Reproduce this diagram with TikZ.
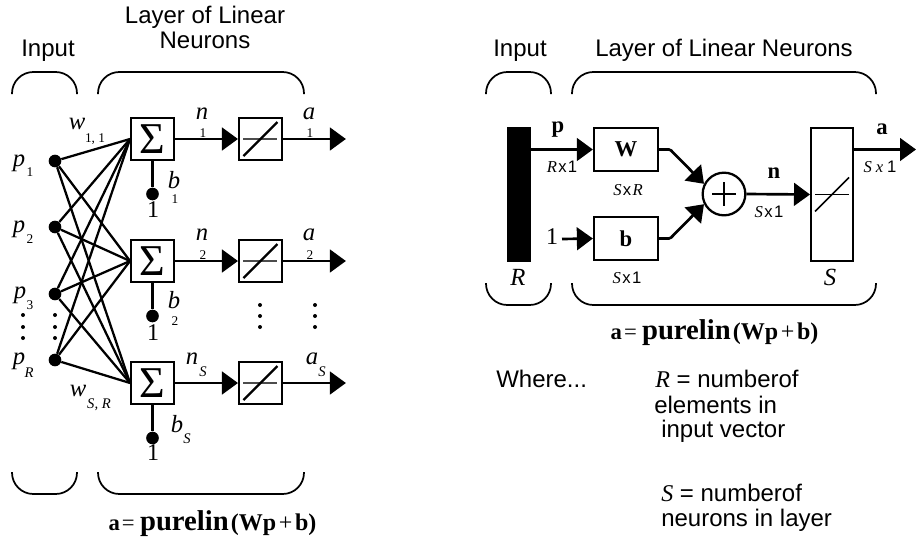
\documentclass[tikz,border=0pt]{standalone}
\usepackage{fontspec}
\setmainfont{Liberation Sans}
\newfontfamily\serifvar{Liberation Serif}
\usetikzlibrary{arrows.meta, positioning}

\newcommand{\purelinformula}{\serifvar\fontsize{17}{18}\selectfont\textbf{a}\hspace{1.5pt}=\hspace{4pt}\fontsize{21.5}{22}\selectfont\textbf{purelin}\fontsize{18}{18}\selectfont\hspace{1.5pt}\textbf{(Wp}\hspace{2pt}+\hspace{2pt}\textbf{b)}}

\begin{document}
\begin{tikzpicture}[
  x=0.75pt, y=-0.75pt,
  node distance=47.25pt,
  heading/.style={inner sep=0pt, anchor=base, font=\fontsize{18}{20}\selectfont},
  note/.style={inner sep=0pt, anchor=base west, font=\fontsize{18}{20}\selectfont},
  varname/.style={inner sep=0pt, font=\serifvar\itshape\fontsize{18.5}{20}\selectfont},
  subname/.style={inner sep=0pt, font=\serifvar\fontsize{10}{12}\selectfont},
  subvar/.style={subname, font=\serifvar\itshape\fontsize{11}{12}\selectfont},
  unitone/.style={inner sep=0pt, font=\serifvar\fontsize{18}{20}\selectfont},
  boldname/.style={inner sep=0pt, font=\serifvar\bfseries\fontsize{17}{20}\selectfont},
  sizename/.style={inner sep=0pt, font=\fontsize{12.5}{14}\selectfont},
  formula/.style={inner sep=0pt},
  box/.style={rectangle, draw=black, line width=1.7pt, minimum size=32pt, inner sep=0pt},
  sumbox/.style={box, font=\serifvar\fontsize{33}{34}\selectfont},
  dotnode/.style={circle, fill=black, inner sep=0pt, minimum size=9.5pt},
  wire/.style={line width=1.7pt},
  arrow/.style={-{Triangle[length=12pt, width=17pt]}, line width=2pt},
  bracket/.style={line width=1.3pt, rounded corners=16pt}
]
\useasboundingbox (0,0) rectangle (916,540);

% left network
\node[sumbox] (sum1) at (152.5,139) {Σ};
\node[sumbox] (sum2) at (152.5,261) {Σ};
\node[sumbox] (sum3) at (152.5,383) {Σ};
\node[box, right=of sum1] (lin1) {};
\node[box, right=of sum2] (lin2) {};
\node[box, right=of sum3] (lin3) {};

\node[dotnode] (p1) at (55,161) {};
\node[dotnode] (p2) at (55,227) {};
\node[dotnode] (p3) at (55,294) {};
\node[dotnode] (pR) at (55,360) {};
\node[dotnode] (b1) at (152.5,194) {};
\node[dotnode] (b2) at (152.5,316) {};
\node[dotnode] (b3) at (152.5,438) {};

\foreach \src in {p1,p2,p3,pR}
  \foreach \dst in {sum1,sum2,sum3}
    \draw[wire] (\src) -- (\dst.west);

\foreach \i in {1,2,3} {
  \coordinate (out\i) at ([xshift=47.25pt]lin\i.east);
  \draw[arrow] (sum\i.east) -- (lin\i.west);
  \draw[arrow] (lin\i.east) -- (out\i);
  \draw[wire] (sum\i.south) -- (b\i);
  \draw[black!70, line width=1pt] (lin\i.center) ++(-17,0) -- ++(34,0);
  \draw[wire] (lin\i.center) ++(-17,17) -- ++(34,-34);
}

\node[unitone] (one1) at (153,210) {1};
\node[unitone] (one2) at (153,333) {1};
\node[unitone] (one3) at (153,453) {1};

\node[varname] (w11) at (77,124) {w};
\node[subname] (w11sub) at (95,139) {1, 1};
\node[varname] (wSR) at (78,391) {w};
\node[subvar] (wSRsub) at (99,405) {S, R};
\node[varname] (p1name) at (19,163) {p};
\node[subname] (p1sub) at (30,172) {1};
\node[varname] (p2name) at (19,229) {p};
\node[subname] (p2sub) at (30,239) {2};
\node[varname] (p3name) at (20,295) {p};
\node[subname] (p3sub) at (30,305) {3};
\node[varname] (pRname) at (19,361) {p};
\node[subvar] (pRsub) at (29,373) {R};

\node[varname] (n1name) at (202,114) {n};
\node[subname] (n1sub) at (203,133) {1};
\node[varname] (a1name) at (309,114) {a};
\node[subname] (a1sub) at (310,133) {1};
\node[varname] (n2name) at (202,235) {n};
\node[subname] (n2sub) at (203,255) {2};
\node[varname] (a2name) at (309,235) {a};
\node[subname] (a2sub) at (310,255) {2};
\node[varname] (n3name) at (192,359) {n};
\node[subvar] (n3sub) at (203,372) {S};
\node[varname] (a3name) at (312,359) {a};
\node[subvar] (a3sub) at (322,372) {S};
\node[varname] (b1name) at (174,180) {b};
\node[subname] (b1sub) at (175,199) {1};
\node[varname] (b2name) at (174,300) {b};
\node[subname] (b2sub) at (175,321) {2};
\node[varname] (b3name) at (177,424) {b};
\node[subvar] (b3sub) at (187,439) {S};

% column dots
\foreach \x in {23,55}
  \foreach \y in {315,327,338}
    \fill (\x,\y) circle (2);
\foreach \x in {260,315}
  \foreach \y in {305,316,327}
    \fill (\x,\y) circle (2);

\node[heading] (inputL) at (48,56) {Input};
\node[heading] (layerA) at (205,23) {Layer of Linear};
\node[heading] (layerB) at (205,48) {Neurons};
\node[formula] (eqL) at (212.5,524) {\purelinformula};

\draw[bracket] (12,94) -- (12,72) -- (77,72) -- (77,94);
\draw[bracket] (98,94) -- (98,72) -- (304,72) -- (304,94);
\draw[bracket] (12,472) -- (12,494) -- (77,494) -- (77,472);
\draw[bracket] (98,472) -- (98,494) -- (304,494) -- (304,472);

% right network
\node[rectangle, fill=black, minimum width=18pt, minimum height=101.5pt, inner sep=0pt] (bar) at (519,194.5) {};
\node[box, minimum width=48pt, font=\serifvar\bfseries\fontsize{17}{20}\selectfont] (wbox) at (626,149.5) {W};
\node[box, minimum width=48pt, font=\serifvar\bfseries\fontsize{17}{20}\selectfont] (bbox) at (626,238.5) {b};
\node[circle, draw=black, line width=1.7pt, minimum size=32pt, inner sep=0pt] (plus) at (724,194) {};
\node[box, minimum width=31.3pt, minimum height=99.8pt] (satlin) at (832,194.5) {};

\coordinate (oneend) at (562,239);
\coordinate (aout) at (916,149.5);
\node[unitone] (oneR) at (552,237) {1};

\draw[arrow] (wbox.west -| bar.east) -- (wbox.west);
\draw[arrow] (oneend) -- (bbox.west);
\draw[arrow, rounded corners=1pt] (wbox.east) -- ++(11,0) -- (plus.153);
\draw[arrow, rounded corners=1pt] (bbox.east) -- ++(11,0) -- (plus.207);
\draw[arrow] (plus.east) -- (satlin.west);
\draw[arrow] (wbox.east -| satlin.east) -- (aout);
\draw[wire] (plus.center) ++(-12,0) -- ++(24,0);
\draw[wire] (plus.center) ++(0,-12) -- ++(0,24);
\draw[line width=0.9pt] (satlin.center) ++(-17,0) -- ++(34,0);
\draw[line width=1.3pt] (satlin.center) ++(-17,17) -- ++(34,-34);

\node[boldname] (pname) at (558,130) {p};
\node[boldname] (nname) at (774,173) {n};
\node[boldname] (aname) at (882,129) {a};
\node[sizename] (Rx1) at (562,167) {\textit{\serifvar R}\hspace{1pt}x\hspace{1pt}1};
\node[sizename] (SxR) at (628,190) {\textit{\serifvar S}\hspace{1pt}x\hspace{1pt}\textit{\serifvar R}};
\node[sizename] (Sxn) at (769,212) {\textit{\serifvar S}\hspace{1pt}x\hspace{1pt}1};
\node[sizename] (Sxa) at (880,167) {\textit{\serifvar S}\hspace{3pt}\textit{\serifvar x}\hspace{3pt}1};
\node[sizename] (Sxb) at (627,278) {\textit{\serifvar S}\hspace{1pt}x\hspace{1pt}1};
\node[varname] (Rname) at (518,277) {R};
\node[varname] (Sname) at (830,277) {S};

\node[heading] (inputR) at (520,56) {Input};
\node[heading] (layerR) at (724,56) {Layer of Linear Neurons};
\node[formula] (eqR) at (714.5,333) {\purelinformula};

\draw[bracket] (486,94) -- (486,72) -- (551,72) -- (551,94);
\draw[bracket] (572,94) -- (572,72) -- (876,72) -- (876,94);
\draw[bracket] (486,283) -- (486,305) -- (551,305) -- (551,283);
\draw[bracket] (572,283) -- (572,305) -- (876,305) -- (876,283);

\node[note] (where) at (496,387) {Where...};
\node[note] (rdef) at (655,387) {{\serifvar\itshape R} = numberof};
\node[note] (rdefb) at (654,413) {elements in};
\node[note] (rdefc) at (661,437) {input vector};
\node[note] (sdef) at (661,501) {{\serifvar\itshape S} = numberof};
\node[note] (sdefb) at (661,526) {neurons in layer};
\end{tikzpicture}
\end{document}
